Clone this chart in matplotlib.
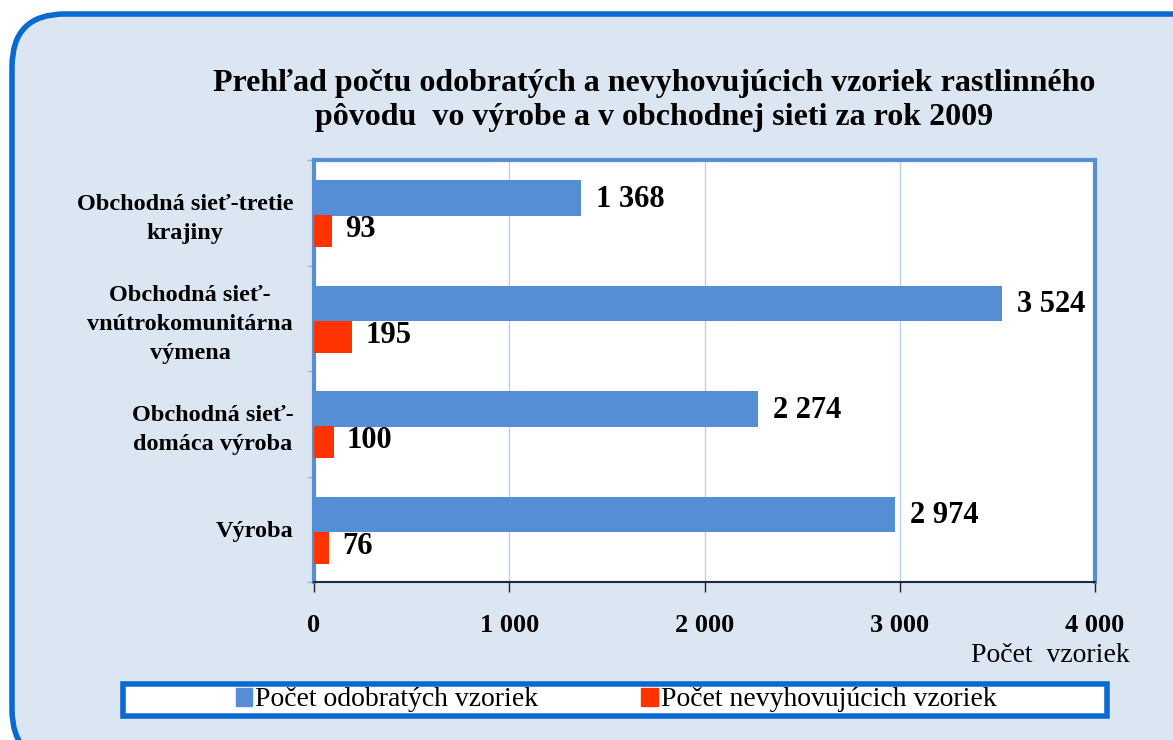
import matplotlib.pyplot as plt
import numpy as np
from matplotlib.patches import FancyBboxPatch

categories = [
    "Obchodná sieť-tretie\nkrajiny",
    "Obchodná sieť-\nvnútrokomunitárna\nvýmena",
    "Obchodná sieť-\ndomáca výroba",
    "Výroba",
]
odobrate = [1368, 3524, 2274, 2974]
nevyhovujuce = [93, 195, 100, 76]
x_ticks = [0, 1000, 2000, 3000, 4000]
x_tick_labels = ["0", "1 000", "2 000", "3 000", "4 000"]

BLUE = "#558ED5"
RED = "#FF3300"
FRAME = "#0A6AD0"
BG = "#DCE6F2"
SERIF = ["Liberation Serif", "DejaVu Serif"]

W, H = 1173, 740
plt.rcParams["font.family"] = SERIF

fig = plt.figure(figsize=(W / 100, H / 100), dpi=100)
fig.patch.set_facecolor("white")

# rounded outer panel, runs past the right and bottom edge
panel = FancyBboxPatch(
    (12 / W, 1 - 740 / H - 0.03), (W + 40) / W, (740 - 14) / H + 0.03,
    boxstyle="round,pad=0,rounding_size=0.045",
    transform=fig.transFigure, facecolor=BG, edgecolor=FRAME, linewidth=4,
    mutation_aspect=W / H, zorder=-5,
)
fig.patches.append(panel)

fig.text(654 / W, 1 - 83 / H,
         "Prehľad počtu odobratých a nevyhovujúcich vzoriek rastlinného",
         ha="center", va="center", fontsize=23, fontweight="bold")
fig.text(654 / W, 1 - 118 / H,
         "pôvodu  vo výrobe a v obchodnej sieti za rok 2009",
         ha="center", va="center", fontsize=23, fontweight="bold")

left, right, top, bottom = 314, 1095, 160, 582
ax = fig.add_axes([left / W, 1 - bottom / H, (right - left) / W, (bottom - top) / H])
ax.set_facecolor("white")

y = np.arange(len(categories))
ax.barh(y - 0.14, odobrate, height=0.34, color=BLUE, zorder=3)
ax.barh(y + 0.175, nevyhovujuce, height=0.30, color=RED, zorder=3)

for yi, v in zip(y, odobrate):
    ax.annotate(f"{v:,}".replace(",", " "), (v, yi - 0.13), xytext=(15, 0),
                textcoords="offset pixels", va="center", ha="left",
                fontsize=22, fontweight="bold")
for yi, v in zip(y, nevyhovujuce):
    ax.annotate(f"{v}", (v, yi + 0.16), xytext=(13, 0),
                textcoords="offset pixels", va="center", ha="left",
                fontsize=22, fontweight="bold")

ax.set_xlim(0, 4000)
ax.set_ylim(len(categories) - 0.5, -0.5)
ax.set_xticks(x_ticks)
ax.set_xticklabels(x_tick_labels, fontsize=19, fontweight="bold")
ax.tick_params(axis="x", length=7, width=1, color="#222222", pad=16)
ax.xaxis.grid(True, color="#B4D2F0", linewidth=1, zorder=1)

ax.set_yticks(np.arange(len(categories) + 1) - 0.5, minor=False)
ax.set_yticklabels([])
ax.tick_params(axis="y", length=5, width=1, color="#8DB4E2")
ax.set_yticks(y, minor=True)
ax.set_yticklabels(categories, minor=True, fontsize=17.5, fontweight="bold",
                   multialignment="center", linespacing=1.5)
ax.tick_params(axis="y", which="minor", length=0, pad=15)

for side in ["top", "right", "left"]:
    ax.spines[side].set_color(BLUE)
    ax.spines[side].set_linewidth(3)
ax.spines["bottom"].set_color("#1A2A44")
ax.spines["bottom"].set_linewidth(1.5)

fig.text(1130 / W, 1 - 656 / H, "Počet  vzoriek", ha="right", va="center",
         fontsize=20)

# legend frame
lf = FancyBboxPatch((123 / W, 1 - 716 / H), (1107 - 123) / W, 32 / H,
                    boxstyle="square,pad=0", transform=fig.transFigure,
                    facecolor="white", edgecolor=FRAME, linewidth=4, zorder=1)
fig.patches.append(lf)
handles = [plt.Rectangle((0, 0), 1, 1, color=BLUE),
           plt.Rectangle((0, 0), 1, 1, color=RED)]
fig.legend(handles, ["Počet odobratých vzoriek", "Počet nevyhovujúcich vzoriek"],
           loc="center", bbox_to_anchor=(616 / W, 1 - 700 / H), ncol=2,
           frameon=False, fontsize=20, handlelength=0.6, handleheight=0.6,
           handletextpad=0.1, columnspacing=3.7, borderpad=0)

fig.savefig("out.png", dpi=100)
